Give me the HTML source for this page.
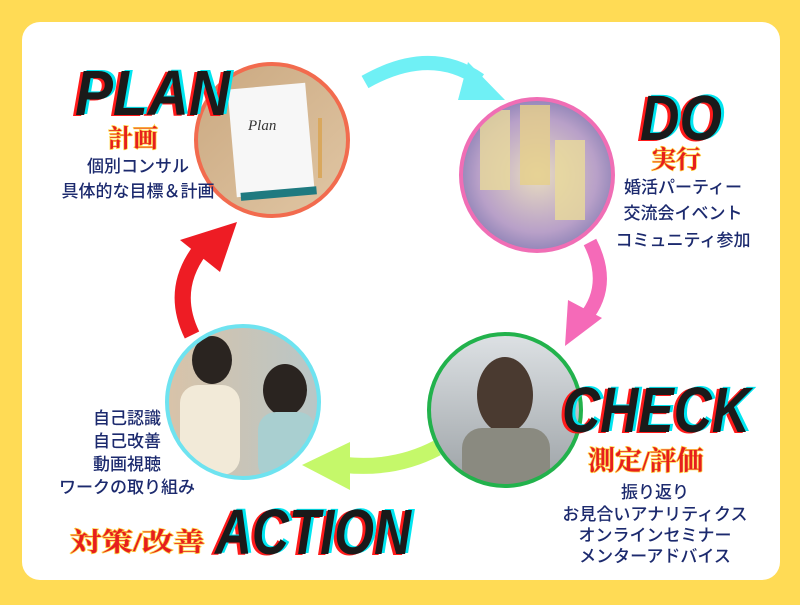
<!DOCTYPE html>
<html><head><meta charset="utf-8"><style>
body{margin:0;width:800px;height:600px;background:#FFDB55;overflow:hidden;font-family:"Liberation Sans","Noto Sans CJK JP",sans-serif}
</style></head><body>
<svg width="800" height="600" viewBox="0 0 800 600" xmlns="http://www.w3.org/2000/svg">
<defs>
<linearGradient id="gp" x1="0" y1="0" x2="1" y2="1"><stop offset="0" stop-color="#c9a77f"/><stop offset="1" stop-color="#e2c8a6"/></linearGradient>
<radialGradient id="gd" cx="0.5" cy="0.5" r="0.6"><stop offset="0" stop-color="#e8dcc0"/><stop offset="0.6" stop-color="#b8a0c8"/><stop offset="1" stop-color="#6a6aa8"/></radialGradient>
<linearGradient id="gc" x1="0" y1="0" x2="0" y2="1"><stop offset="0" stop-color="#dfe3e6"/><stop offset="1" stop-color="#9aa0a4"/></linearGradient>
<linearGradient id="ga" x1="0" y1="0" x2="1" y2="0"><stop offset="0" stop-color="#d9c3a8"/><stop offset="1" stop-color="#b7c6c8"/></linearGradient>
<clipPath id="c1"><circle cx="272" cy="140" r="76"/></clipPath>
<clipPath id="c2"><circle cx="537" cy="175" r="76"/></clipPath>
<clipPath id="c3"><circle cx="505" cy="410" r="76"/></clipPath>
<clipPath id="c4"><circle cx="243" cy="402" r="76"/></clipPath>
</defs>
<rect x="22" y="22" width="758" height="558" rx="18" fill="#fff"/>
<path d="M365 82 Q430 45 480 80" stroke="#6FF0F5" stroke-width="14" fill="none"/>
<polygon points="468,62 505,100 458,100" fill="#6FF0F5"/>
<path d="M590 242 Q612 285 585 318" stroke="#F56AB8" stroke-width="14" fill="none"/>
<polygon points="568,300 602,318 565,346" fill="#F56AB8"/>
<path d="M437 448 Q395 470 345 465" stroke="#C5F86A" stroke-width="16" fill="none"/>
<polygon points="350,442 302,465 350,490" fill="#C5F86A"/>
<path d="M192 335 Q170 290 200 250" stroke="#EE1C24" stroke-width="16" fill="none"/>
<polygon points="180,240 237,222 220,272" fill="#EE1C24"/>
<g clip-path="url(#c1)"><rect x="190" y="60" width="170" height="160" fill="url(#gp)"/>
<rect x="232" y="86" width="78" height="108" fill="#f7f7f7" transform="rotate(-5 271 140)"/><rect x="236" y="190" width="76" height="8" fill="#1f7a80" transform="rotate(-5 271 140)"/>
<text x="248" y="130" font-size="15" fill="#333" font-family="Liberation Serif,serif" font-style="italic">Plan</text>
<rect x="318" y="118" width="4" height="60" fill="#d9a85e"/></g>
<circle cx="272" cy="140" r="76" fill="none" stroke="#F26B4E" stroke-width="4"/>
<g clip-path="url(#c2)"><rect x="455" y="95" width="165" height="160" fill="url(#gd)"/>
<rect x="480" y="110" width="30" height="80" fill="#e9d99a" opacity=".8"/><rect x="520" y="105" width="30" height="80" fill="#e6d08a" opacity=".8"/><rect x="555" y="140" width="30" height="80" fill="#eadb9a" opacity=".8"/></g>
<circle cx="537" cy="175" r="76" fill="none" stroke="#F06EB5" stroke-width="4"/>
<g clip-path="url(#c3)"><rect x="425" y="330" width="165" height="160" fill="url(#gc)"/>
<ellipse cx="505" cy="395" rx="28" ry="38" fill="#4a3a30"/><rect x="462" y="428" width="88" height="60" rx="20" fill="#8a8a80"/></g>
<circle cx="505" cy="410" r="76" fill="none" stroke="#22B24C" stroke-width="4"/>
<g clip-path="url(#c4)"><rect x="165" y="325" width="160" height="160" fill="url(#ga)"/>
<ellipse cx="212" cy="360" rx="20" ry="24" fill="#2a2420"/><rect x="180" y="385" width="60" height="90" rx="18" fill="#f2ead8"/>
<ellipse cx="285" cy="390" rx="22" ry="26" fill="#2a2420"/><rect x="258" y="412" width="58" height="70" rx="18" fill="#a9cfd0"/></g>
<circle cx="243" cy="402" r="76" fill="none" stroke="#6EE3F0" stroke-width="4"/>
<g font-family="Liberation Sans,sans-serif" font-weight="bold" font-style="italic" font-size="64" lengthAdjust="spacingAndGlyphs">
<text x="72" y="116" fill="#ff1a1a" textLength="155" lengthAdjust="spacingAndGlyphs">PLAN</text><text x="78" y="114" fill="#00e5f0" textLength="155" lengthAdjust="spacingAndGlyphs">PLAN</text><text x="75" y="115" fill="#1a1a1a" textLength="155" lengthAdjust="spacingAndGlyphs">PLAN</text>
<text x="637" y="141" fill="#ff1a1a" textLength="82" lengthAdjust="spacingAndGlyphs">DO</text><text x="643" y="139" fill="#00e5f0" textLength="82" lengthAdjust="spacingAndGlyphs">DO</text><text x="640" y="140" fill="#1a1a1a" textLength="82" lengthAdjust="spacingAndGlyphs">DO</text>
<text x="559" y="433" fill="#ff1a1a" textLength="188" lengthAdjust="spacingAndGlyphs">CHECK</text><text x="565" y="431" fill="#00e5f0" textLength="188" lengthAdjust="spacingAndGlyphs">CHECK</text><text x="562" y="432" fill="#1a1a1a" textLength="188" lengthAdjust="spacingAndGlyphs">CHECK</text>
<text x="212" y="555" fill="#ff1a1a" textLength="196" lengthAdjust="spacingAndGlyphs">ACTION</text><text x="218" y="553" fill="#00e5f0" textLength="196" lengthAdjust="spacingAndGlyphs">ACTION</text><text x="215" y="554" fill="#1a1a1a" textLength="196" lengthAdjust="spacingAndGlyphs">ACTION</text>
</g>
<g font-family="Liberation Serif,Noto Serif CJK SC,serif" font-weight="bold" fill="#e61e1e" stroke="#ffd84a" stroke-width="1.5" paint-order="stroke">
<text x="108" y="147" font-size="25">計画</text>
<text x="651" y="168" font-size="25">実行</text>
<text x="588" y="470" font-size="27">測定/評価</text>
<text x="70" y="551" font-size="26" textLength="135" lengthAdjust="spacingAndGlyphs">対策/改善</text>
</g>
<g font-family="Liberation Sans,Noto Sans CJK JP,sans-serif" font-size="17" fill="#1c2a6e" text-anchor="middle" font-weight="500">
<text x="138" y="172">個別コンサル</text><text x="138" y="197">具体的な目標＆計画</text>
<text x="683" y="193">婚活パーティー</text><text x="683" y="219">交流会イベント</text><text x="683" y="246">コミュニティ参加</text>
<text x="655" y="498">振り返り</text><text x="655" y="520">お見合いアナリティクス</text><text x="655" y="541">オンラインセミナー</text><text x="655" y="562">メンターアドバイス</text>
<text x="127" y="424">自己認識</text><text x="127" y="447">自己改善</text><text x="127" y="470">動画視聴</text><text x="127" y="493">ワークの取り組み</text>
</g>
</svg>
</body></html>
